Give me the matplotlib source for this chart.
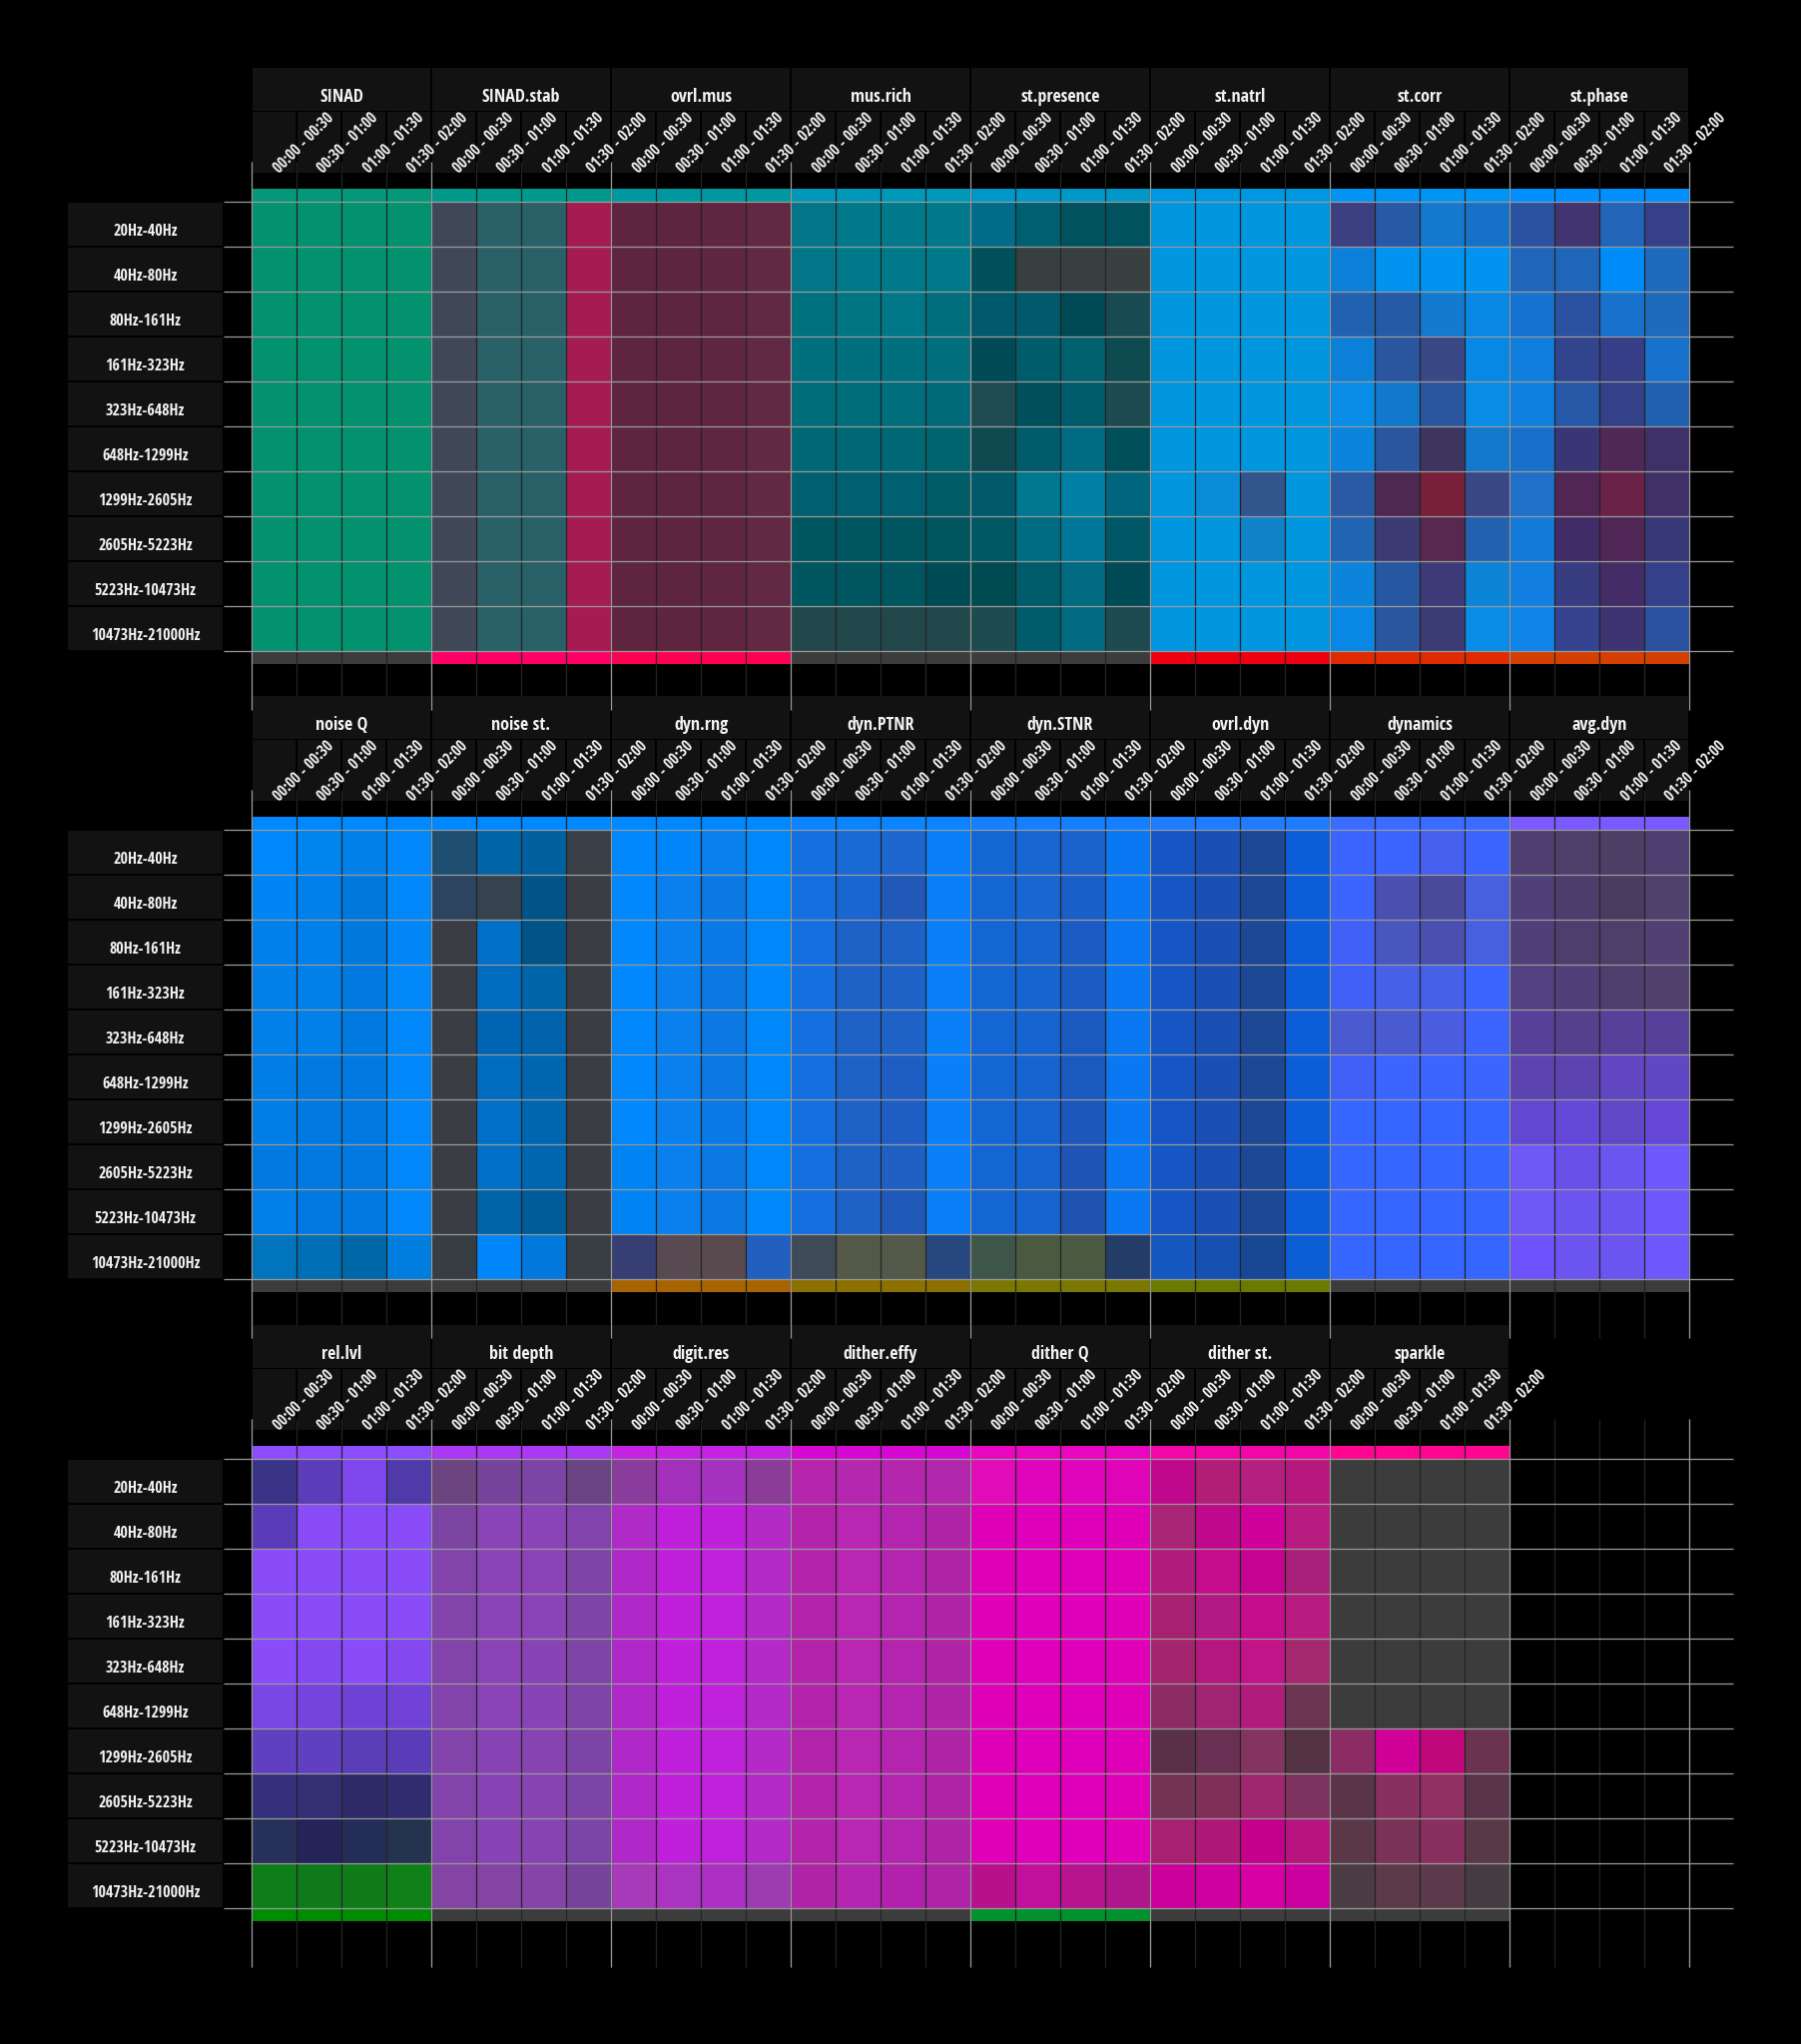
import numpy as np
import matplotlib.pyplot as plt
from matplotlib.colors import to_rgb
from matplotlib.patches import Rectangle

plt.rcParams['font.family'] = ['Open Sans Condensed', 'DejaVu Sans']

BANDS = ['20Hz-40Hz', '40Hz-80Hz', '80Hz-161Hz', '161Hz-323Hz', '323Hz-648Hz',
         '648Hz-1299Hz', '1299Hz-2605Hz', '2605Hz-5223Hz', '5223Hz-10473Hz',
         '10473Hz-21000Hz']
SLOTS = ['00:00 - 00:30', '00:30 - 01:00', '01:00 - 01:30', '01:30 - 02:00']

# cell colours: one string per band, one colour per time slot
# ---- panel 1
SINAD = ['02926f 02926f 02926f 02926f', '02926f 02926f 02926f 02926f',
         '02926f 02926f 02926f 02926f', '02926f 02926f 02926f 02926f',
         '02926f 02926f 02926f 02926f', '02926f 02926f 02926f 02926f',
         '02926f 02926f 02926f 02926f', '02926f 02926f 02926f 02926f',
         '02926f 02926f 02926f 02926f', '02926f 02926f 02926f 02926f']
SINAD_STAB = ['404858 2a6068 2a6068 a61c52', '404858 2a6068 2a6068 a61c52',
              '404858 2a6068 2a6068 a61c52', '404858 2a6068 2a6068 a61c52',
              '404858 2a6068 2a6068 a61c52', '404858 2a6068 2a6068 a61c52',
              '404858 2a6068 2a6068 a61c52', '404858 2a6068 2a6068 a61c52',
              '404858 2a6068 2a6068 a61c52', '404858 2a6068 2a6068 a61c52']
OVRL_MUS = ['5f2540 5e2440 602641 632843', '5f2540 5e2440 602641 632843',
            '5f2540 5e2440 602641 632843', '5f2540 5e2440 602641 632843',
            '5f2540 5e2440 602641 632843', '5f2540 5e2440 602641 632843',
            '5f2540 5e2440 602641 632843', '5f2540 5e2440 602641 632843',
            '5f2540 5e2440 602641 632843', '5f2540 5e2440 602641 632843']
MUS_RICH = ['007688 007a8a 007a8a 007a8c', '007688 007a8a 007a8a 007a8a',
            '00717e 007584 007888 006e7c', '006f7e 006f7e 006f7e 006e7c',
            '006d7b 006d7b 006e7c 006a78', '006874 006874 006874 00646e',
            '006070 006070 006070 005c66', '005660 005660 005660 00555e',
            '005660 005660 005660 004c55', '23484c 23484c 23484c 22484c']
ST_PRESENCE = ['006b8a 005f70 00535e 00535e', '00505c 373f40 373f40 3a3f40',
               '005a6b 005a6b 004a55 184a52', '004b55 005c6a 00606e 0e4b50',
               '1f4b52 00505b 005c6a 1f4a50', '0f4a50 005c6a 006c84 00505a',
               '005a6a 00788f 0080a6 00667e', '005864 006c82 00789a 005866',
               '004b52 005c6a 006a80 004b55', '1e4b50 005c6a 006a80 1e4a50']
ST_NATRL = ['0096e0 0096e0 0096e0 0096e0', '0096e0 0096e0 0096e0 0096e0',
            '0096e0 0096e0 0096e0 0096e0', '0096e0 0096e0 0096e0 0096e0',
            '0096e0 0096e0 0096e0 0096e0', '0096e0 0096e0 0096e0 0096e0',
            '0096e0 0a8cd8 31558c 0096e0', '0096e0 0096e0 1082c8 0096e0',
            '0096e0 0096e0 0096e0 0096e0', '0096e0 0096e0 0096e0 0096e0']
ST_CORR = ['3c4080 275aa6 137ad0 1672c8', '0c80d8 0094f0 0094f0 0094f0',
           '2062b0 255aa6 137ad0 0888e4', '0c80d8 2a56a0 3a4888 0888e4',
           '088ce6 1278cc 2a56a0 088ce6', '0a84dc 2a56a0 3e3460 1478cc',
           '2a5aa4 4e2850 78203c 3a4888', '2064b2 3c3a72 582850 2260b0',
           '0c84dc 2658a2 3e3c78 0c84d8', '0888e4 2a56a0 3c3c74 088ce6']
ST_PHASE = ['2b52a0 423470 2264b8 364088', '1f66ba 1f66ba 008cf8 1e6abc',
            '1472d0 2a52a0 1672cc 1e6abc', '0f7ede 32448e 353e86 1672cc',
            '0f80e0 2658a8 344088 2060b0', '1870cc 3a3676 502856 3e3068',
            '1e70c8 522654 6a2248 3f3068', '147ad8 422c68 502656 383878',
            '127ee0 383c80 442c66 35408a', '0f84e8 344290 3e3472 2a52a0']
TOP_1 = ['03987a', '009a8c', '0098a0', '0098b8', '0098c8', '0098e0', '0094f4', '0090ff']
BOTTOM_1 = ['3c3c3c', 'ff0066', 'ff0052', '3c3c3c', '3c3c3c', 'ee0010', 'e02a00', 'd44000']

# ---- panel 2
NOISE_Q = ['0088fa 0084ee 0080e8 0088fa', '0086f4 0080ea 0078dc 0088fa',
           '0080ea 0080ea 0078dc 0086f6', '0080e8 0080e8 007ae0 0088f8',
           '0080e8 0080e8 007ae0 0088fa', '007ee6 007ae0 007ae0 0088fa',
           '007ee6 007ae0 007ae0 0088fa', '007ae0 007ae0 007ae0 0088fa',
           '0080e8 007ae0 007ae0 0088fa', '0074bc 006eb4 0068a8 007ee0']
NOISE_ST = ['1e4e70 0064a8 0060a0 3a4048', '2c4460 36424e 005488 3a3e44',
            '3a3e44 0070c8 005488 3a3e44', '3a3e44 006cc0 0064a8 3a3e44',
            '3a3e44 0066b4 0062aa 3a3e44', '3a3e44 006cc0 0066b0 3a3e44',
            '3a3e44 0070c8 0066b0 3a3e44', '3a3e44 0070c8 0066b0 3a3e44',
            '3a3e44 0064a8 005c98 3a3e44', '363e44 0086f8 0078dc 383e44']
DYN_RNG = ['0088fc 0086f8 0a80ee 0088fa', '0088fc 0a80ee 0c78e4 0088fa',
           '0088fc 0a80ee 0c7ae6 0088fa', '0088fc 0a80ee 0c78e4 0088fa',
           '0088fc 0a80ee 0c78e4 0088fa', '0088fc 0a80ee 0c78e4 0088fa',
           '0088fc 0a80ee 0c7ae6 0088fa', '0084f4 0a80ee 0c78e4 0088fa',
           '0084f4 0a80ee 0c78e4 0088fa', '363e74 584a50 584a4e 2260c0']
DYN_PTNR = ['1470e0 1a6ad6 1e66d0 0a80f8', '1470e0 1a66d0 2258b8 0a80f8',
            '1470e0 1e62c8 1e62c8 0a80f8', '1470e0 1e62c8 1e62c8 0a80f8',
            '1470e0 1e62c8 1e62c8 0a80f8', '1470e0 1e62c8 1e5ec4 0a80f8',
            '1470e0 1e62c8 1e5ec4 0a80f8', '1470e0 1e62c8 2060c4 0a80f8',
            '1470e0 1e62c8 2058b8 0a80f8', '3e4a58 545848 545848 26487e']
DYN_STNR = ['1466d4 1866d2 1a62cc 0a78f2', '1466d4 1866d2 1a5ec8 0a78f2',
            '1466d4 1664d0 1a5cc4 0a78f2', '1466d4 1664d0 1a5cc4 0a78f2',
            '1466d4 1664d0 1a5ac0 0a78f2', '1466d4 1664d0 1a5ac0 0a78f2',
            '1466d4 1664d0 1c58bc 0a78f2', '1466d4 1664d0 1e54b4 0a78f2',
            '1466d4 1664d0 1e52b0 0a78f2', '3e564a 4a5a40 4a5a40 243c68']
OVRL_DYN = ['1656c4 1a50b4 1c4894 0c5ed8', '1656c4 1a50b4 1c4894 0c5ed8',
            '1656c4 1a50b4 1c4894 0c5ed8', '1656c4 1a50b4 1c4894 0c5ed8',
            '1656c4 1a50b4 1c4894 0c5ed8', '1656c4 1a50b4 1c4894 0c5ed8',
            '1656c4 1a50b4 1c4894 0c5ed8', '1656c4 1a50b4 1c4894 0c5ed8',
            '1656c4 1a50b4 1c4894 0c5ed8', '1458c0 1650b0 184894 0c5ed4']
DYNAMICS = ['3c64ff 3c64ff 4660f0 3c64ff', '3c64ff 4a50b0 4a4a9c 4660e0',
            '4060f8 4a56c0 4a50b0 4660e0', '4060f8 4660e8 4660e8 3c64ff',
            '4a5ad0 4a5ad0 4a5ce0 3c64ff', '4060f8 3c64ff 3a66ff 3a66ff',
            '3566ff 3566ff 3566ff 3566ff', '3566ff 3566ff 3566ff 3566ff',
            '3566ff 3566ff 3566ff 3566ff', '3566ff 3566ff 3566ff 3566ff']
AVG_DYN = ['503e70 4e3e6a 4c3e64 4e3e70', '50407a 4c3e6c 4a3c60 50406e',
           '50407a 4e3e6e 4e3e6a 524074', '524080 50407a 4e3e6e 52406e',
           '56409a 54408c 56409a 56409a', '5c44b0 5c44b0 6046c0 6048c4',
           '6248d0 6448d8 6048c8 6648d8', '7058f8 6850e8 6c54f0 7058ff',
           '7058f8 6c54f0 6c54f0 7058ff', '6e52fc 6c54f0 6c54f0 7058ff']
TOP_2 = ['0088ff', '0088ff', '0088ff', '0a84ff', '1480ff', '207cff', '3a6cff', '7a5aff']
BOTTOM_2 = ['3c3c3c', '3c3c3c', 'a86400', '8c7000', '7a7800', '6a7a00', '3c3c3c', '3c3c3c']

# ---- panel 3
REL_LVL = ['3a3488 5c3cb8 7e48ec 4e3aa8', '5a3cb8 8a4cf8 8a4cf8 8a4cf8',
           '8a4cf8 8a4cf8 8a4cf8 8a4cf8', '8a4cf8 8a4cf8 8a4cf6 8a4cf8',
           '8a4cf8 8448f0 8a4cf8 8448f0', '7a46e4 7444dc 6e42d4 7242d8',
           '6040c0 6040c0 5a3eb8 5a3cb8', '34307c 342e74 2e2a68 302c70',
           '26305a 24245a 242c58 24344e', '0e7e1a 0e7a1a 107c18 108018']
BIT_DEPTH = ['6c4480 76449a 7c44a4 6a4484', '7a44a0 8a44b8 8a44b8 8244ac',
             '8244aa 8a44b6 8a44b6 7e44a8', '8244aa 8a44b6 8a44b6 7e44a8',
             '8244aa 8a44b6 8844b4 7e44a8', '8244aa 8a44b6 8844b4 7e44a8',
             '8244aa 8844b4 8644b0 7c44a6', '8244aa 8844b4 8644b0 7c44a6',
             '8244aa 8844b4 8644b0 7c44a6', '8444a4 8444a4 8444a8 76449a']
DIGIT_RES = ['8a3c9c a230ba a632c0 8a3c98', 'b02ac8 c020dc c020dc b42ac6',
             'b028c8 c020dc c022dc b42ac8', 'b028c8 c020dc c022dc b42ac8',
             'b028c8 c020dc c022dc b42ac8', 'b028c8 c020dc c022dc b42ac8',
             'b028c8 c020dc c022dc b42ac8', 'b028c8 c020dc c022dc b42ac8',
             'b028c8 c020dc c022dc b42ac8', 'a63ab8 aa34c0 ac30c4 9c3cb0']
DITHER_EFFY = ['b626ac b428b0 b426ae b228ac', 'b424aa b826b2 b424ae b024a8',
               'b424aa b826b2 b424ae b024a8', 'b424aa b826b2 b424ae b024a8',
               'b424aa b826b2 b424ae b024a8', 'b424aa b826b2 b424ae b024a8',
               'b424aa b826b2 b424ae b024a8', 'b424aa b826b2 b424ae b024a8',
               'b424aa b826b2 b424ae b024a8', 'b024a8 b426b0 b220ac b024a8']
DITHER_Q = ['e00cb8 e004bc e004bc e004b8', 'e000b8 e000bc e000bc e000b8',
            'e000b8 e000bc e000bc e000b8', 'e000b8 e000bc e000bc e000b8',
            'e000b8 e000bc e000bc e000b8', 'e000b8 e000bc e000bc e000b8',
            'e000b8 e000bc e000bc e000b8', 'e000b8 e000bc e000bc e000b8',
            'e000b8 e000bc e000bc e000b8', 'b8108c c0109c b81490 b0168c']
DITHER_ST = ['c0088c b01e78 b42080 b6187e', 'a82474 c0088c d0009a b81c80',
             'b01c7c c40c8c c40490 a8207a', 'a82070 b41884 c40c8c b81c80',
             'a4246e b41880 c01488 a4286e', '8c2c64 a02472 b01c7c 6a3452',
             '5a3048 6a3054 843460 543442', '723452 803058 a02670 7e3260',
             'a82070 b01878 c4008c b81480', 'cc009c d000a0 d800a4 cc00a0']
SPARKLE = ['3c3c3c 3c3c3c 3c3c3c 3c3c3c', '3c3c3c 3c3c3c 3c3c3c 3c3c3c',
           '3c3c3c 3c3c3c 3c3c3c 3c3c3c', '3c3c3c 3c3c3c 3c3c3c 3c3c3c',
           '3c3c3c 3c3c3c 3c3c3c 3c3c3c', '3c3c3c 3c3c3c 3c3c3c 3c3c3c',
           '8c2c64 d00098 c0087c 6a3450', '5a3448 8a3060 903062 5a3448',
           '5a3848 7a3258 8a3060 583a46', '4a3c42 5c3a4a 5c3a4c 443c40']
TOP_3 = ['8c4cff', 'aa38f4', 'c622e4', 'd808d4', 'e806c0', 'f206a8', 'ff0590']
BOTTOM_3 = ['008c00', '3c3c3c', '3c3c3c', '3c3c3c', '00902c', '3c3c3c', '3c3c3c']

PANELS = [
    (['SINAD', 'SINAD.stab', 'ovrl.mus', 'mus.rich', 'st.presence', 'st.natrl', 'st.corr', 'st.phase'],
     [SINAD, SINAD_STAB, OVRL_MUS, MUS_RICH, ST_PRESENCE, ST_NATRL, ST_CORR, ST_PHASE], TOP_1, BOTTOM_1),
    (['noise Q', 'noise st.', 'dyn.rng', 'dyn.PTNR', 'dyn.STNR', 'ovrl.dyn', 'dynamics', 'avg.dyn'],
     [NOISE_Q, NOISE_ST, DYN_RNG, DYN_PTNR, DYN_STNR, OVRL_DYN, DYNAMICS, AVG_DYN], TOP_2, BOTTOM_2),
    (['rel.lvl', 'bit depth', 'digit.res', 'dither.effy', 'dither Q', 'dither st.', 'sparkle'],
     [REL_LVL, BIT_DEPTH, DIGIT_RES, DITHER_EFFY, DITHER_Q, DITHER_ST, SPARKLE], TOP_3, BOTTOM_3),
]

# layout in pixels
W, H = 1804, 2047
CELL = 45
GRID_X0 = 252
LINE_X0, LINE_X1 = 224, 1736
LABEL_X0, LABEL_X1 = 68, 223
PANEL_TOPS = [68, 697, 1327]
N_COLS = 32
STRIP = 13
BOX = '#121212'
TXT = '#f2f2f2'


def to_img(grid):
    return np.array([[to_rgb('#' + c) for c in row.split()] for row in grid])


fig = plt.figure(figsize=(W / 100, H / 100), dpi=100, facecolor='black')
ax = fig.add_axes([0, 0, 1, 1])
ax.set_facecolor('black')
ax.set_xlim(0, W)
ax.set_ylim(H, 0)
ax.axis('off')

for top, (names, grids, tops, bottoms) in zip(PANEL_TOPS, PANELS):
    y0 = top + 134
    y1 = y0 + len(BANDS) * CELL
    img = np.concatenate([to_img(g) for g in grids], axis=1)
    ax.imshow(img, extent=(GRID_X0, GRID_X0 + img.shape[1] * CELL, y1, y0),
              interpolation='nearest', aspect='auto', zorder=1)

    gx = GRID_X0 + np.arange(len(names)) * 4 * CELL
    ax.bar(gx, STRIP, width=4 * CELL, bottom=y0 - STRIP, align='edge',
           color=['#' + c for c in tops], linewidth=0, zorder=1)
    ax.bar(gx, STRIP, width=4 * CELL, bottom=y1, align='edge',
           color=['#' + c for c in bottoms], linewidth=0, zorder=1)

    cols = GRID_X0 + np.arange(N_COLS + 1) * CELL
    line_end = y1 + STRIP + 46
    ax.vlines(cols, top + 94, line_end, color='#232323', lw=0.9, zorder=1.5)
    ax.vlines(cols[::4], top + 94, line_end, color='#9a9a9a', lw=0.9, zorder=3)
    ax.hlines(y0 + np.arange(len(BANDS) + 1) * CELL, LINE_X0, LINE_X1,
              color='#9a9a9a', lw=0.9, zorder=3)

    for i, name in enumerate(names):
        x0 = gx[i]
        ax.add_patch(Rectangle((x0 + 1, top), 4 * CELL - 2, 43, color=BOX, lw=0, zorder=2))
        ax.text(x0 + 2 * CELL, top + 34, name, ha='center', va='baseline',
                color=TXT, fontsize=13, fontweight='bold', zorder=5)
        for j, slot in enumerate(SLOTS):
            cx = x0 + j * CELL
            ax.add_patch(Rectangle((cx + 1, top + 44), CELL - 2, 61, color=BOX, lw=0, zorder=2))
            ax.text(cx + CELL / 2 + 5, top + 106, slot, rotation=45, rotation_mode='anchor',
                    ha='left', va='baseline', color=TXT, fontsize=11.2,
                    fontweight='bold', zorder=5)

    for k, band in enumerate(BANDS):
        ry = y0 + k * CELL
        ax.add_patch(Rectangle((LABEL_X0, ry + 1), LABEL_X1 - LABEL_X0, CELL - 2,
                               color=BOX, lw=0, zorder=2))
        ax.text((LABEL_X0 + LABEL_X1) / 2, ry + 34, band, ha='center', va='baseline',
                color=TXT, fontsize=11.5, fontweight='bold', zorder=5)

fig.savefig('out.png', dpi=100, facecolor='black')
